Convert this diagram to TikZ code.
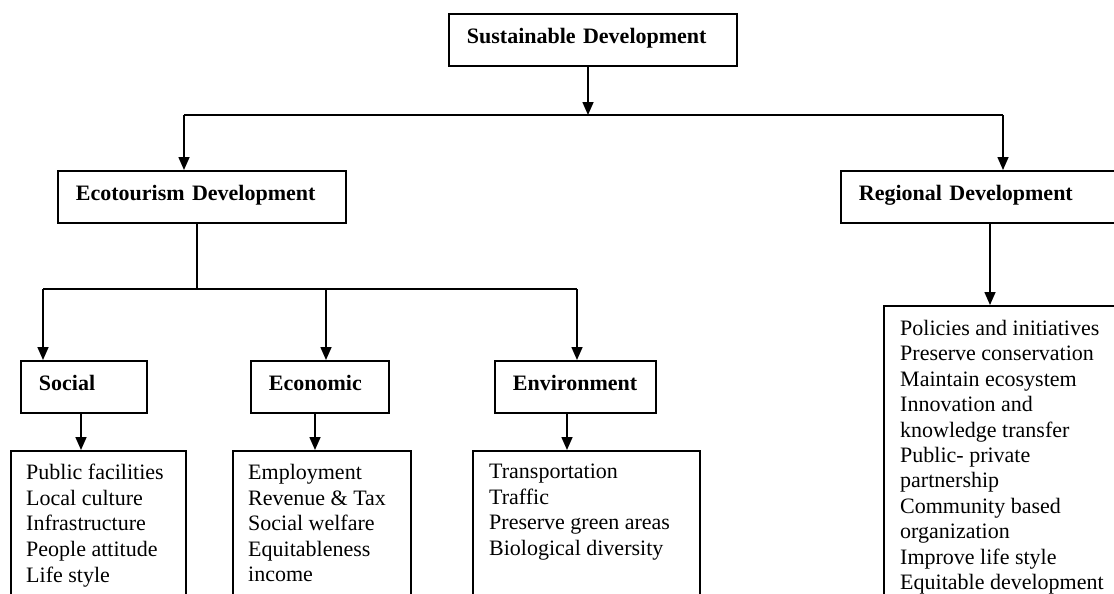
\documentclass[tikz,border=0pt]{standalone}
\usepackage{fontspec}
\setmainfont{Liberation Serif}
\usetikzlibrary{arrows.meta}
\tikzset{
  hbox/.style={draw, line width=1.9pt, anchor=north west, align=left,
    font=\fontsize{22}{26}\selectfont\bfseries,
    inner xsep=18pt, inner ysep=15pt, text height=15pt, text depth=7pt},
  lbox/.style={draw, line width=1.9pt, anchor=north west, inner sep=0pt},
  ltext/.style={anchor=north west, align=left, inner sep=0pt,
    font=\fontsize{22}{25.6}\selectfont},
  rtext/.style={ltext, font=\fontsize{22}{25.4}\selectfont},
  ln/.style={line width=1.6pt},
  thickln/.style={line width=2.8pt},
  arr/.style={line width=1.6pt, -{Triangle[length=13pt,width=11pt]}}
}
\begin{document}
\begin{tikzpicture}[x=1pt,y=-1pt]
\fill[white] (0,0) rectangle (1114,594);
\useasboundingbox (0,0) rectangle (1114,594);

% heading boxes
\node[hbox, text width=252pt] (sd) at (448,13) {Sustainable Development};
\node[hbox, text width=252pt] (eco) at (57,170) {Ecotourism Development};
\node[hbox, text width=300pt] (reg) at (840,170) {Regional Development};
\node[hbox, text width=90pt] (soc) at (20,360) {Social};
\node[hbox, text width=102pt] (econ) at (250,360) {Economic};
\node[hbox, text width=125pt] (env) at (494,360) {Environment};

% list boxes
\node[lbox, minimum width=175pt, minimum height=200pt] (socB) at (10,450) {};
\node[lbox, minimum width=178pt, minimum height=200pt] (econB) at (232,450) {};
\node[lbox, minimum width=227pt, minimum height=200pt] (envB) at (472,450) {};
\node[lbox, minimum width=280pt, minimum height=340pt] (regB) at (883,305) {};

% list texts
\node[ltext] (socT) at (26,464) {Public facilities\\Local culture\\Infrastructure\\People attitude\\Life style};
\node[ltext] (econT) at (248,464) {Employment\\Revenue \& Tax\\Social welfare\\Equitableness\\income};
\node[ltext] (envT) at (489,464) {Transportation\\Traffic\\Preserve green areas\\Biological diversity};
\node[rtext] (regT) at (900,320) {Policies and initiatives\\Preserve conservation\\Maintain ecosystem\\Innovation and\\knowledge transfer\\Public- private\\partnership\\Community based\\organization\\Improve life style\\Equitable development};

% junction coordinates
\coordinate (sdj) at (588,115);
\coordinate (hL) at (184,115);
\coordinate (hR) at (1003,115);
\coordinate (ej) at (197,289);
\coordinate (eL) at (43,289);
\coordinate (eM) at (326,289);
\coordinate (eR) at (577,289);
\coordinate (socx) at (81,0);
\coordinate (econx) at (315,0);
\coordinate (envx) at (567,0);
\coordinate (regx) at (990,0);

% connectors
\draw[arr] (sd.south -| sdj) -- (sdj);
\draw[ln] (hL) -- (hR);
\draw[arr] (hL) -- (hL |- eco.north);
\draw[arr] (hR) -- (hR |- reg.north);

\draw[thickln] (eco.south -| ej) -- (ej);
\draw[ln] (eL) -- (eR);
\draw[arr] (eL) -- (eL |- soc.north);
\draw[arr] (eM) -- (eM |- econ.north);
\draw[arr] (eR) -- (eR |- env.north);

\draw[arr] (soc.south -| socx) -- (socB.north -| socx);
\draw[arr] (econ.south -| econx) -- (econB.north -| econx);
\draw[arr] (env.south -| envx) -- (envB.north -| envx);
\draw[arr] (reg.south -| regx) -- (regB.north -| regx);
\end{tikzpicture}
\end{document}
